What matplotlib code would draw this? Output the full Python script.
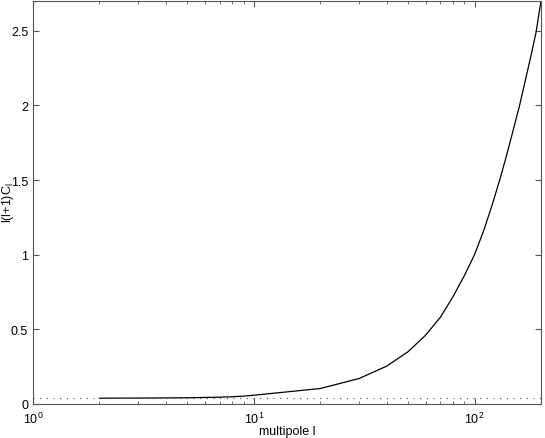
import matplotlib
matplotlib.use("Agg")
import matplotlib.pyplot as plt
import numpy as np

plt.rcParams['font.family'] = ['Liberation Sans', 'DejaVu Sans']
plt.rcParams['mathtext.fontset'] = 'custom'
plt.rcParams['mathtext.rm'] = 'Liberation Sans'
plt.rcParams['mathtext.it'] = 'Liberation Sans'

# multipole values and l(l+1)C_l
ell = [2, 3, 4, 5, 6, 7, 8, 9, 10, 20, 30, 40, 50, 60, 70, 80, 90, 100,
       110, 120, 130, 140, 150, 160, 170, 180, 190, 200]
cl = [0.038, 0.039, 0.040, 0.041, 0.043, 0.045, 0.048, 0.052, 0.058,
      0.103, 0.170, 0.253, 0.350, 0.460, 0.580, 0.720, 0.860, 1.000,
      1.160, 1.330, 1.500, 1.670, 1.840, 2.000, 2.170, 2.330, 2.490, 2.700]
plateau = 0.04
yticks = [0, 0.5, 1, 1.5, 2, 2.5]
ytick_labels = ["0", "0.5", "1", "1.5", "2", "2.5"]

fig = plt.figure(figsize=(5.45, 4.39), dpi=100)
ax = fig.add_axes([0.0606, 0.0777, 0.932, 0.9177])

ax.semilogx(ell, cl, color='k', linewidth=0.9)
ax.axhline(plateau, color='#444444', linestyle=(0, (1, 5)), linewidth=0.8)

ax.set_xlim(1, 200)
ax.set_ylim(0, 2.7)
ax.set_yticks(yticks)
ax.set_yticklabels(ytick_labels)

for s in ax.spines.values():
    s.set_color('#555555')
    s.set_linewidth(0.8)
ax.tick_params(which='both', direction='in', top=True, right=True,
               colors='#555555', labelcolor='k', labelsize=9)
ax.tick_params(which='major', length=4)
ax.tick_params(which='minor', length=2)
ax.tick_params(axis='x', pad=5)

# axis labels placed by hand, like the original
fig.text(287 / 545, 1 - 432 / 439, "multipole l", fontsize=9,
         ha='center', va='center')
fig.text(8 / 545, 1 - 203 / 439, r"l(l+1)C$_\mathregular{l}$", fontsize=9,
         rotation=90, ha='center', va='center')

fig.savefig("out.png", dpi=100)
